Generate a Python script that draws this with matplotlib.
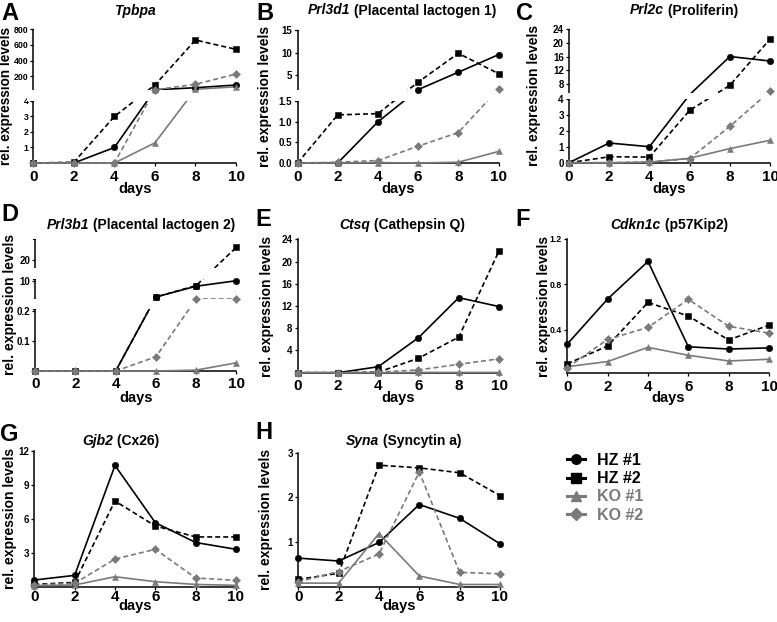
import numpy as np
import matplotlib
matplotlib.use("Agg")
import matplotlib.pyplot as plt
from matplotlib.lines import Line2D
from matplotlib.patches import Rectangle

plt.rcParams['font.family'] = ['Liberation Sans', 'DejaVu Sans']
plt.rcParams['font.weight'] = 'bold'

# ---------------- data ----------------
days = [0, 2, 4, 6, 8, 10]
series_labels = ['HZ #1', 'HZ #2', 'KO #1', 'KO #2']

a_hz1 = [0, 0, 1.0, 25, 51, 86]
a_hz2 = [0, 0.05, 3.0, 86, 663, 543]
a_ko1 = [0, 0, 0, 1.3, 31, 64]
a_ko2 = [0, 0, 0, 25, 95, 227]

b_hz1 = [0, 0, 1.0, 1.85, 5.7, 9.6]
b_hz2 = [0, 1.17, 1.2, 3.5, 9.9, 5.4]
b_ko1 = [0, 0, 0.01, 0, 0.02, 0.28]
b_ko2 = [0, 0.02, 0.06, 0.41, 0.74, 2.0]

c_hz1 = [0, 1.23, 1.0, 5.0, 16.0, 14.7]
c_hz2 = [0, 0.37, 0.35, 3.27, 7.7, 21.0]
c_ko1 = [0, 0, 0.03, 0.28, 0.88, 1.4]
c_ko2 = [0, 0, 0.05, 0.25, 2.27, 6.0]

d_hz1 = [0, 0, 0, 2.0, 7.3, 10.0]
d_hz2 = [0, 0, 0, 2.0, 7.6, 26.0]
d_ko1 = [0, 0, 0, 0, 0.003, 0.027]
d_ko2 = [0, 0, 0, 0.047, 1.0, 1.0]

e_hz1 = [0, 0, 1.07, 6.3, 13.5, 11.9]
e_hz2 = [0, 0, 0.1, 2.6, 6.4, 21.9]
e_ko1 = [0, 0, 0, 0.05, 0.05, 0.05]
e_ko2 = [0, 0, 0.1, 0.5, 1.5, 2.5]

f_hz1 = [0.274, 0.67, 1.0, 0.25, 0.23, 0.24]
f_hz2 = [0.10, 0.257, 0.64, 0.52, 0.31, 0.44]
f_ko1 = [0.075, 0.12, 0.245, 0.175, 0.125, 0.14]
f_ko2 = [0.066, 0.315, 0.42, 0.667, 0.43, 0.37]

g_hz1 = [0.59, 1.0, 10.7, 5.65, 3.9, 3.3]
g_hz2 = [0.2, 0.38, 7.56, 5.36, 4.39, 4.39]
g_ko1 = [0.1, 0.15, 0.88, 0.44, 0.2, 0.12]
g_ko2 = [0.14, 0.3, 2.44, 3.3, 0.77, 0.56]

h_hz1 = [0.64, 0.575, 0.99, 1.84, 1.53, 0.96]
h_hz2 = [0.165, 0.3, 2.72, 2.66, 2.55, 2.04]
h_ko1 = [0.08, 0.08, 1.19, 0.24, 0.05, 0.05]
h_ko2 = [0.11, 0.34, 0.73, 2.57, 0.32, 0.29]

a_ticks = [1, 2, 3, 4, 200, 400, 600, 800]
b_ticks = [0.0, 0.5, 1.0, 1.5, 5, 10, 15]
b_ticklabels = ['0.0', '0.5', '1.0', '1.5', '5', '10', '15']
c_ticks = [0, 1, 2, 3, 4, 8, 12, 16, 20, 24]
d_ticks = [0.1, 0.2, 10, 20]
e_ticks = [4, 8, 12, 16, 20, 24]
f_ticks = [0.4, 0.8, 1.2]
g_ticks = [3, 6, 9, 12]
h_ticks = [1, 2, 3]
x_ticks = [0, 2, 4, 6, 8, 10]

# ---------------- styling ----------------
W, H = 777, 622
BLACK = '#000000'
GRAY = '#7a7a7a'
LW = 1.2
DASH = (0, (3.0, 1.8))
styles = [
    dict(color=BLACK, ls='-', marker='o', ms=4.6),
    dict(color=BLACK, ls=DASH, marker='s', ms=4.6),
    dict(color=GRAY, ls='-', marker='^', ms=4.6),
    dict(color=GRAY, ls=DASH, marker='D', ms=4.0),
]

fig = plt.figure(figsize=(W / 100, H / 100), dpi=100)
fig.patch.set_facecolor('white')


def make_scale(segs):
    def lin(s, v):
        v0, v1, f0, f1 = s
        return f0 + (v - v0) * (f1 - f0) / (v1 - v0)

    def ilin(s, f):
        v0, v1, f0, f1 = s
        return v0 + (f - f0) * (v1 - v0) / (f1 - f0)

    def fwd(v):
        v = np.asarray(v, dtype=float)
        out = lin(segs[0], v)
        for i in range(1, len(segs)):
            out = np.where(v > segs[i - 1][1], lin(segs[i], v), out)
        return out

    def inv(f):
        f = np.asarray(f, dtype=float)
        out = ilin(segs[0], f)
        for i in range(1, len(segs)):
            prev = segs[i - 1]
            out = np.where(f > prev[3], prev[1], out)
            fb = lin(segs[i], prev[1])
            out = np.where(f > fb, ilin(segs[i], f), out)
        return out
    return fwd, inv


def in_gap(v, segs):
    for i in range(1, len(segs)):
        if segs[i - 1][1] < v < segs[i][0]:
            return True
    return False


panels = [
    dict(letter='A', gene='Tpbpa', desc='', data=[a_hz1, a_hz2, a_ko1, a_ko2],
         box=(33.3, 236, 163, 29), segs=[(0, 4, 163, 101), (22, 800, 90, 29.3)],
         ticks=a_ticks, labels=None, tcx=135, tby=14.5, lxy=(1.5, 2), ylx=6.5, yls=9.8,
         xly=189, xpad=3.0, ysz=6.3, ypad=0.9),
    dict(letter='B', gene='Prl3d1', desc=' (Placental lactogen 1)', data=[b_hz1, b_hz2, b_ko1, b_ko2],
         box=(297.5, 498.5, 163, 29.3), segs=[(0, 1.5, 163, 101.3), (1.7, 15, 90.3, 30.3)],
         ticks=b_ticks, labels=b_ticklabels, tcx=402, tby=14.5, lxy=(256, 2), ylx=265, yls=10,
         xly=189, xpad=3.0, ysz=7, ypad=1.2),
    dict(letter='C', gene='Prl2c', desc=' (Proliferin)', data=[c_hz1, c_hz2, c_ko1, c_ko2],
         box=(569, 770, 162.7, 28.7), segs=[(0, 4, 162.7, 98.7), (5.5, 24, 93, 28.7)],
         ticks=c_ticks, labels=None, tcx=684, tby=14.5, lxy=(516, 2), ylx=534, yls=10,
         xly=189, xpad=3.0, ysz=7, ypad=1.2),
    dict(letter='D', gene='Prl3b1', desc=' (Placental lactogen 2)', data=[d_hz1, d_hz2, d_ko1, d_ko2],
         box=(35.3, 236.3, 371, 238.3),
         segs=[(0, 0.205, 371, 309), (1, 11, 299, 278.7), (16, 30, 268.3, 238.9)],
         ticks=d_ticks, labels=None, tcx=140.7, tby=228.5, lxy=(1, 203), ylx=10, yls=10,
         xly=398, xpad=2.5, ysz=7, ypad=1.2),
    dict(letter='E', gene='Ctsq', desc=' (Cathepsin Q)', data=[e_hz1, e_hz2, e_ko1, e_ko2],
         box=(297.7, 499, 372.7, 239.3), segs=[(0, 24, 372.7, 239.3)],
         ticks=e_ticks, labels=None, tcx=402.5, tby=229, lxy=(255, 208), ylx=267, yls=10,
         xly=398, xpad=2.5, ysz=7, ypad=1.2),
    dict(letter='F', gene='Cdkn1c', desc=' (p57Kip2)', data=[f_hz1, f_hz2, f_ko1, f_ko2],
         box=(567.3, 769, 373.3, 238.7), segs=[(0, 1.2, 375.2, 238.7)],
         ticks=f_ticks, labels=None, tcx=669, tby=229.5, lxy=(515, 208), ylx=544, yls=10,
         xly=398, xpad=2.5, ysz=6.3, ypad=1.2),
    dict(letter='G', gene='Gjb2', desc=' (Cx26)', data=[g_hz1, g_hz2, g_ko1, g_ko2],
         box=(34.3, 236, 586.7, 450.7), segs=[(0, 12, 586.7, 450.7)],
         ticks=g_ticks, labels=None, tcx=121, tby=445, lxy=(0, 423), ylx=10, yls=10,
         xly=606, xpad=0.2, ysz=7, ypad=1.2),
    dict(letter='H', gene='Syna', desc=' (Syncytin a)', data=[h_hz1, h_hz2, h_ko1, h_ko2],
         box=(298.3, 500, 586.7, 452.7), segs=[(0, 3, 586.7, 452.7)],
         ticks=h_ticks, labels=None, tcx=404, tby=445, lxy=(255, 421), ylx=266, yls=10,
         xly=606, xpad=0.2, ysz=7, ypad=1.2),
]

renderer = fig.canvas.get_renderer()

for p in panels:
    l, r, b, t = p['box']
    ax = fig.add_axes([l / W, 1 - b / H, (r - l) / W, (b - t) / H])
    segs_f = [(v0, v1, (b - y0) / (b - t), (b - y1) / (b - t)) for (v0, v1, y0, y1) in p['segs']]
    fwd, inv = make_scale(segs_f)
    ax.set_yscale('function', functions=(fwd, inv))
    ax.set_xlim(0, 10)
    ax.set_ylim(float(inv(0.0)), float(inv(1.0)))

    for vals, st in zip(p['data'], styles):
        ax.plot(days, vals, color=st['color'], ls=st['ls'], lw=LW, zorder=3, clip_on=False)
        mvals = [np.nan if in_gap(v, segs_f) else v for v in vals]
        ax.plot(days, mvals, ls='none', marker=st['marker'], ms=st['ms'], color=st['color'],
                mec=st['color'], mew=0.4, zorder=5, clip_on=False)

    for sp in ['top', 'right']:
        ax.spines[sp].set_visible(False)
    ax.spines['bottom'].set_linewidth(1.1)
    ax.spines['left'].set_linewidth(1.1)

    if len(segs_f) > 1:
        ax.spines['left'].set_visible(False)
        for s in segs_f:
            lo, hi = max(s[2], 0.0), min(s[3], 1.0)
            ax.plot([0, 0], [lo, hi], transform=ax.transAxes, color='k', lw=1.1,
                    clip_on=False, zorder=2.6, solid_capstyle='butt')
            ax.plot([-0.012, 0], [lo, lo], transform=ax.transAxes, color='k', lw=0.8,
                    clip_on=False, zorder=2.6)
            ax.plot([-0.012, 0], [hi, hi], transform=ax.transAxes, color='k', lw=0.8,
                    clip_on=False, zorder=2.6)
        for i in range(1, len(segs_f)):
            y0 = segs_f[i - 1][3]
            y1 = segs_f[i][2]
            ax.add_patch(Rectangle((-0.03, y0), 1.08, y1 - y0, transform=ax.transAxes,
                                   facecolor='white', edgecolor='none', zorder=4, clip_on=False))

    if p['labels'] is None:
        ax.set_yticks(p['ticks'], [f'{v:g}' for v in p['ticks']])
    else:
        ax.set_yticks(p['ticks'], p['labels'])
    ax.set_yticks([], minor=True)
    ax.set_xticks(x_ticks, [str(v) for v in x_ticks])
    ax.tick_params(axis='y', length=2.5, width=0.9, labelsize=p['ysz'], pad=p['ypad'])
    ax.tick_params(axis='x', length=2, width=0.9, labelsize=11, pad=p['xpad'])
    for lab in ax.get_xticklabels() + ax.get_yticklabels():
        lab.set_fontweight('bold')

    # panel letter
    fig.text(p['lxy'][0] / W, 1 - p['lxy'][1] / H, p['letter'], fontsize=17, fontweight='bold',
             ha='left', va='top')
    # title (italic gene + plain description)
    t1 = fig.text(0, 0, p['gene'], fontsize=10, fontweight='bold', style='italic',
                  ha='left', va='baseline')
    w1 = t1.get_window_extent(renderer).width
    w2 = 0
    t2 = None
    if p['desc']:
        t2 = fig.text(0, 0, p['desc'], fontsize=10, fontweight='bold', ha='left', va='baseline')
        w2 = t2.get_window_extent(renderer).width
    x0 = p['tcx'] - (w1 + w2) / 2
    t1.set_position((x0 / W, 1 - p['tby'] / H))
    if t2 is not None:
        t2.set_position(((x0 + w1) / W, 1 - p['tby'] / H))
    # axis labels
    fig.text(p['ylx'] / W, 1 - ((b + t) / 2) / H, 'rel. expression levels', rotation=90,
             fontsize=p['yls'], fontweight='bold', ha='center', va='center')
    fig.text(((l + r) / 2) / W, 1 - p['xly'] / H, 'days', fontsize=10.5, fontweight='bold',
             ha='center', va='center')

# legend
handles = [Line2D([], [], color=st['color'], ls='-', lw=2.2, marker=st['marker'],
                  ms=st['ms'] * 1.5, mec=st['color']) for st in styles]
leg = fig.legend(handles, series_labels, loc='upper left',
                 bbox_to_anchor=(567 / W, 1 - 453 / H), frameon=False,
                 prop=dict(size=11.5, weight='bold'), handlelength=1.1,
                 handletextpad=0.75, labelspacing=0.2, borderpad=0, borderaxespad=0)
for txt, st in zip(leg.get_texts(), styles):
    txt.set_color(st['color'])

fig.savefig('out.png', dpi=100, facecolor='white')
